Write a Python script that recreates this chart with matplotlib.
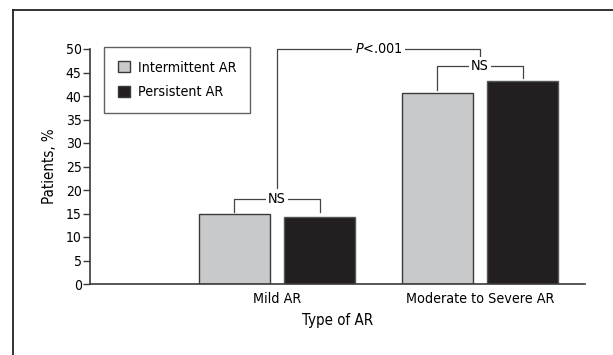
import matplotlib
matplotlib.use("Agg")
import matplotlib.pyplot as plt
from matplotlib.patches import Patch
from matplotlib.lines import Line2D

plt.rcParams['font.family'] = ['DejaVu Sans']
plt.rcParams['font.stretch'] = 'condensed'
plt.rcParams['mathtext.fontset'] = 'custom'
plt.rcParams['mathtext.it'] = 'DejaVu Sans:style=italic:stretch=condensed'
plt.rcParams['mathtext.rm'] = 'DejaVu Sans:stretch=condensed'

categories = ["Mild AR", "Moderate to Severe AR"]
series_names = ["Intermittent AR", "Persistent AR"]
intermittent = [14.8, 40.7]
persistent = [14.2, 43.2]
yticks = [0, 5, 10, 15, 20, 25, 30, 35, 40, 45, 50]
pair_label = "NS"
group_label = "$\\it{P}$<.001"

gray = "#c8c9cb"
black = "#231f20"
edge = "#3a3a3a"

fs = 10.3

fig = plt.figure(figsize=(6.13, 3.55), dpi=100)
ax = fig.add_axes([90/613, 1-284/355, 495/613, 235/355])

x = [1, 2]
w = 0.35
off = 0.21
ax.bar([xi - off for xi in x], intermittent, width=w, color=gray, edgecolor=edge, linewidth=1.0, zorder=2)
ax.bar([xi + off for xi in x], persistent, width=w, color=black, edgecolor="#555555", linewidth=1.0, zorder=2)

ax.set_xlim(1 - 187/203, 2 + 105/203)
ax.set_ylim(0, 50)
ax.set_yticks(yticks)
ax.set_xticks(x)
ax.set_xticklabels(categories, fontsize=fs)
ax.tick_params(axis='x', length=0, pad=6)
ax.tick_params(axis='y', length=5, width=1.0, color=edge, labelsize=10, pad=1)
for s in ['top', 'right']:
    ax.spines[s].set_visible(False)
for s in ['left', 'bottom']:
    ax.spines[s].set_color(edge)
    ax.spines[s].set_linewidth(1.2)
ax.set_ylabel("Patients, %", fontsize=fs + 0.5, labelpad=6)
ax.set_xlabel("Type of AR", fontsize=fs + 0.5, labelpad=5)

lc = "#444444"
lw = 0.9
for xi, a, b in zip(x, intermittent, persistent):
    top = max(a, b) + 3.2
    l = xi - off
    r = xi + off
    ax.plot([l, l, r, r], [a + 0.6, top, top, b + 0.6 if xi == 2 else a + 0.6], color=lc, lw=lw, zorder=3)
    ax.text(xi, top, pair_label, ha='center', va='center', fontsize=fs,
            bbox=dict(facecolor='white', edgecolor='none', pad=1.5), zorder=4)
ptop = 50.1
ax.plot([1, 1, 2, 2], [max(intermittent[0], persistent[0]) + 5.6, ptop, ptop, ptop - 2.0],
        color=lc, lw=lw, zorder=3, clip_on=False)
ax.text(1.5, ptop, group_label, ha='center', va='center', fontsize=fs,
        bbox=dict(facecolor='white', edgecolor='none', pad=2), zorder=4)

handles = [Patch(facecolor=gray, edgecolor=edge, linewidth=1.0),
           Patch(facecolor=black, edgecolor=edge, linewidth=1.0)]
leg = ax.legend(handles, series_names, loc='upper left',
                bbox_to_anchor=((104-90)/495, (284-47)/235), borderaxespad=0,
                fontsize=fs, frameon=True, fancybox=False, handlelength=0.85,
                handleheight=0.85, handletextpad=0.6, labelspacing=0.75,
                borderpad=0.95)
leg.get_frame().set_edgecolor(edge)
leg.get_frame().set_linewidth(1.0)

fig.add_artist(Line2D([12.5/613, 12.5/613], [0, 1-9.5/355], transform=fig.transFigure, color="#222222", lw=1.3))
fig.add_artist(Line2D([12.5/613, 1], [1-9.5/355, 1-9.5/355], transform=fig.transFigure, color="#222222", lw=1.3))

fig.savefig("out.png", dpi=100)
